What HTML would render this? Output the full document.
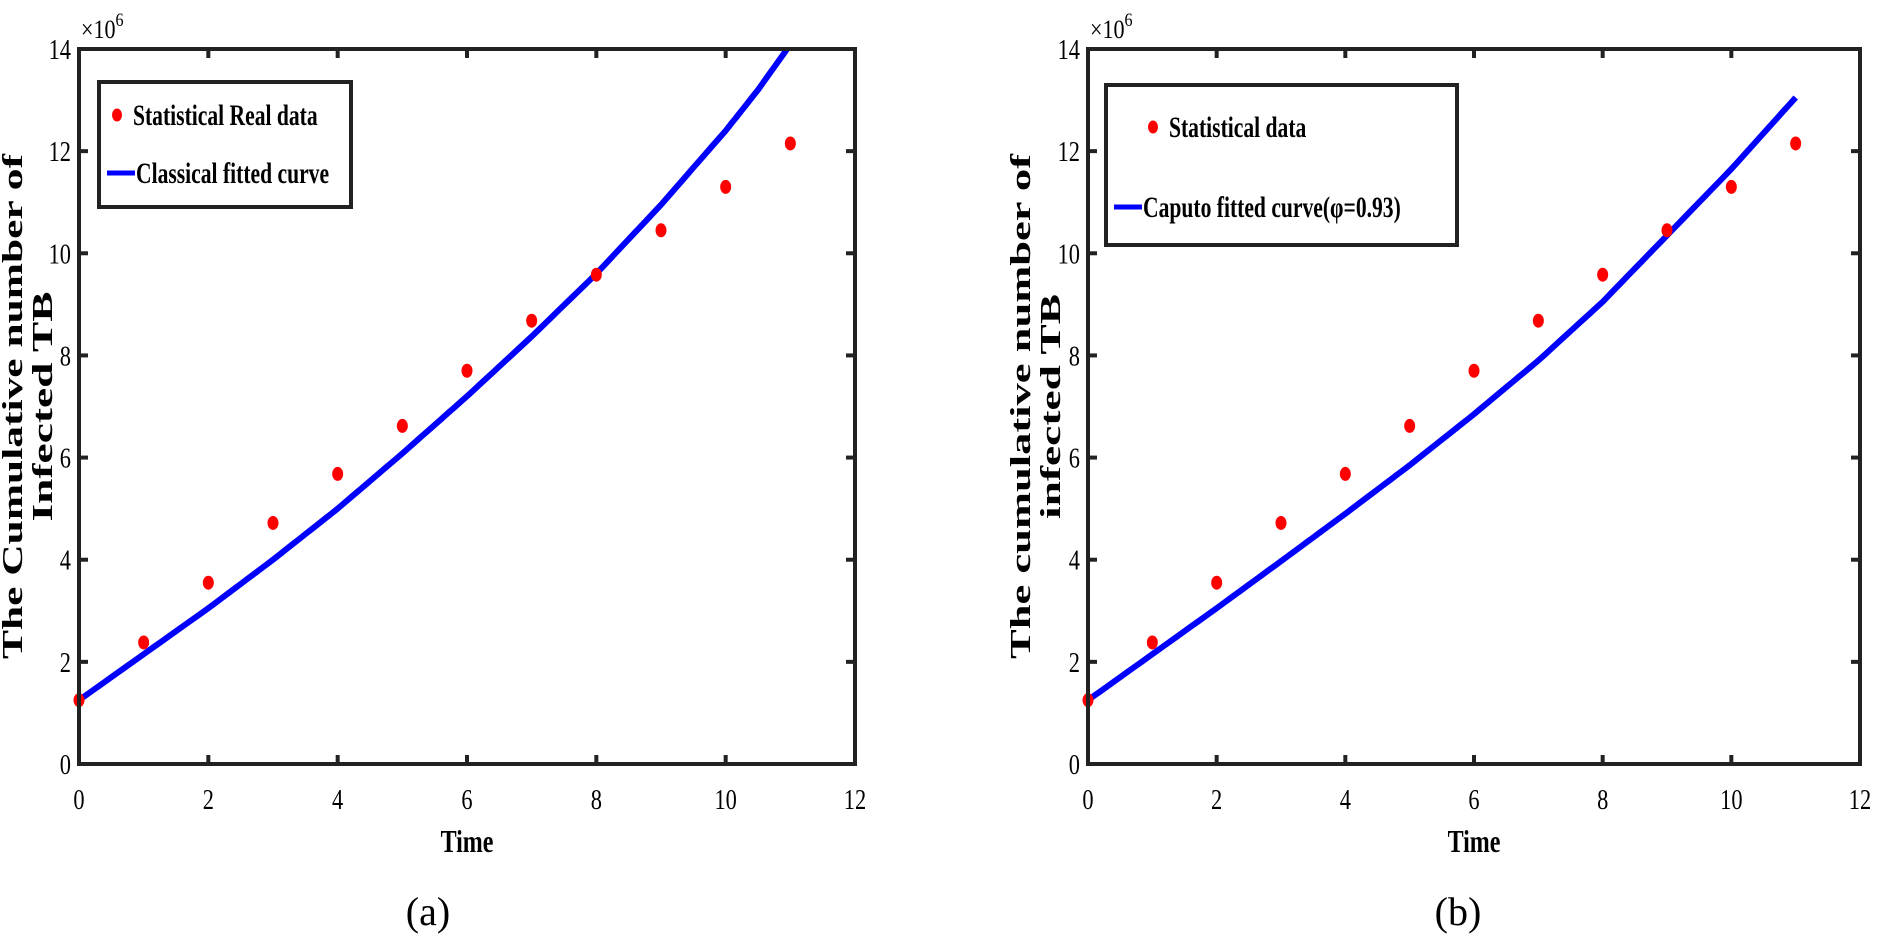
<!DOCTYPE html>
<html><head><meta charset="utf-8"><style>
html,body{margin:0;padding:0;background:#fff;width:1877px;height:945px;overflow:hidden}
svg text{font-family:"Liberation Serif",serif;}
</style></head><body>
<svg id="s" width="1877" height="945" xmlns="http://www.w3.org/2000/svg"></svg>
<script>
const s=document.getElementById('s');let h='';
const data=[1.25,2.38,3.55,4.72,5.68,6.62,7.7,8.68,9.58,10.45,11.3,12.15];
function sc(x,k){return `transform="translate(${x},0) scale(${k},1) translate(${-x},0)"`;}
function panel(L,R,T,B,curve,leg,ylab,cap){
 const X=t=>L+t*(R-L)/12, Y=v=>B-v*(B-T)/14;
 let p='';
 for(let i=0;i<curve.length;i++)p+=(i?'L':'M')+X(curve[i][0]).toFixed(1)+','+Y(curve[i][1]).toFixed(1);
 h+=`<path d="${p}" fill="none" stroke="#0000ff" stroke-width="6" stroke-linejoin="round"/>`;
 data.forEach((v,i)=>h+=`<ellipse cx="${X(i)}" cy="${Y(v)}" rx="5.5" ry="7" fill="#ff0000"/>`);
 h+=`<rect x="${L}" y="${T}" width="${R-L}" height="${B-T}" fill="none" stroke="#222" stroke-width="4"/>`;
 for(let t=0;t<=12;t+=2){const x=X(t);
  h+=`<line x1="${x}" y1="${B}" x2="${x}" y2="${B-9}" stroke="#222" stroke-width="4"/><line x1="${x}" y1="${T}" x2="${x}" y2="${T+9}" stroke="#222" stroke-width="4"/>`;
  h+=`<text x="${x}" y="${B+45}" font-size="28" text-anchor="middle" ${sc(x,0.8)}>${t}</text>`;}
 for(let v=0;v<=14;v+=2){const y=Y(v);
  h+=`<line x1="${L}" y1="${y}" x2="${L+9}" y2="${y}" stroke="#222" stroke-width="4"/><line x1="${R}" y1="${y}" x2="${R-9}" y2="${y}" stroke="#222" stroke-width="4"/>`;
  h+=`<text x="${L-8}" y="${y+10}" font-size="28" text-anchor="end" ${sc(L-8,0.8)}>${v}</text>`;}
 h+=`<text x="${L+2}" y="${T-11}" font-size="26" ${sc(L+2,0.85)}>×10<tspan dy="-12" font-size="19">6</tspan></text>`;
 h+=`<text x="${(L+R)/2}" y="${B+88}" font-size="32" font-weight="bold" text-anchor="middle" ${sc((L+R)/2,0.75)}>Time</text>`;
 const cy=(T+B)/2;
 h+=`<g transform="translate(${ylab.x},${cy}) rotate(-90)"><text x="${-ylab.la/2}" y="0" font-size="29" font-weight="bold" textLength="${ylab.la}" lengthAdjust="spacingAndGlyphs">${ylab.a}</text><text x="${-ylab.lb/2}" y="30" font-size="29" font-weight="bold" textLength="${ylab.lb}" lengthAdjust="spacingAndGlyphs">${ylab.b}</text></g>`;
 h+=`<rect x="${leg.x}" y="${leg.y}" width="${leg.w}" height="${leg.h}" fill="#fff" stroke="#222" stroke-width="4"/>`;
 h+=`<ellipse cx="${leg.mx}" cy="${leg.y1-10}" rx="5" ry="6.5" fill="#ff0000"/>`;
 h+=`<text x="${leg.mx+16}" y="${leg.y1}" font-size="30" font-weight="bold" ${sc(leg.mx+16,0.72)}>${leg.t1}</text>`;
 h+=`<line x1="${leg.x+8}" y1="${leg.y2-10}" x2="${leg.x+36}" y2="${leg.y2-10}" stroke="#0000ff" stroke-width="5"/>`;
 h+=`<text x="${leg.x+37}" y="${leg.y2}" font-size="30" font-weight="bold" ${sc(leg.x+37,0.72)}>${leg.t2}</text>`;
 h+=`<text x="${cap.x}" y="925" font-size="40" text-anchor="middle">${cap.t}</text>`;
}
function interp(pts){const out=[];for(let i=0;i<pts.length-1;i++){const [t0,v0]=pts[i],[t1,v1]=pts[i+1];
 for(let k=0;k<10;k++){const u=k/10;out.push([t0+(t1-t0)*u,v0+(v1-v0)*u]);}}out.push(pts[pts.length-1]);return out;}
const leftC=interp([[0,1.25],[1,2.15],[2,3.05],[3,4.0],[4,5.0],[5,6.08],[6,7.2],[7,8.37],[8,9.6],[9,10.95],[10,12.4],[10.5,13.2],[10.95,14]]);
const rightC=interp([[0,1.25],[1,2.15],[2,3.05],[3,3.97],[4,4.9],[5,5.85],[6,6.85],[7,7.9],[8,9.05],[9,10.35],[10,11.65],[11,13.05]]);
panel(79,855,49,764,leftC,{x:99,y:82,w:252,h:125,mx:117,y1:125,y2:183,t1:'Statistical Real data',t2:'Classical fitted curve'},{x:22,a:'The Cumulative number of',la:505,b:'Infected TB',lb:230},{x:428,t:'(a)'});
panel(1088,1860,49,764,rightC,{x:1106,y:85,w:351,h:160,mx:1153,y1:137,y2:217,t1:'Statistical data',t2:'Caputo fitted curve(φ=0.93)'},{x:1030,a:'The cumulative number of',la:505,b:'infected TB',lb:225},{x:1458,t:'(b)'});
s.innerHTML=h;
</script>
</body></html>
